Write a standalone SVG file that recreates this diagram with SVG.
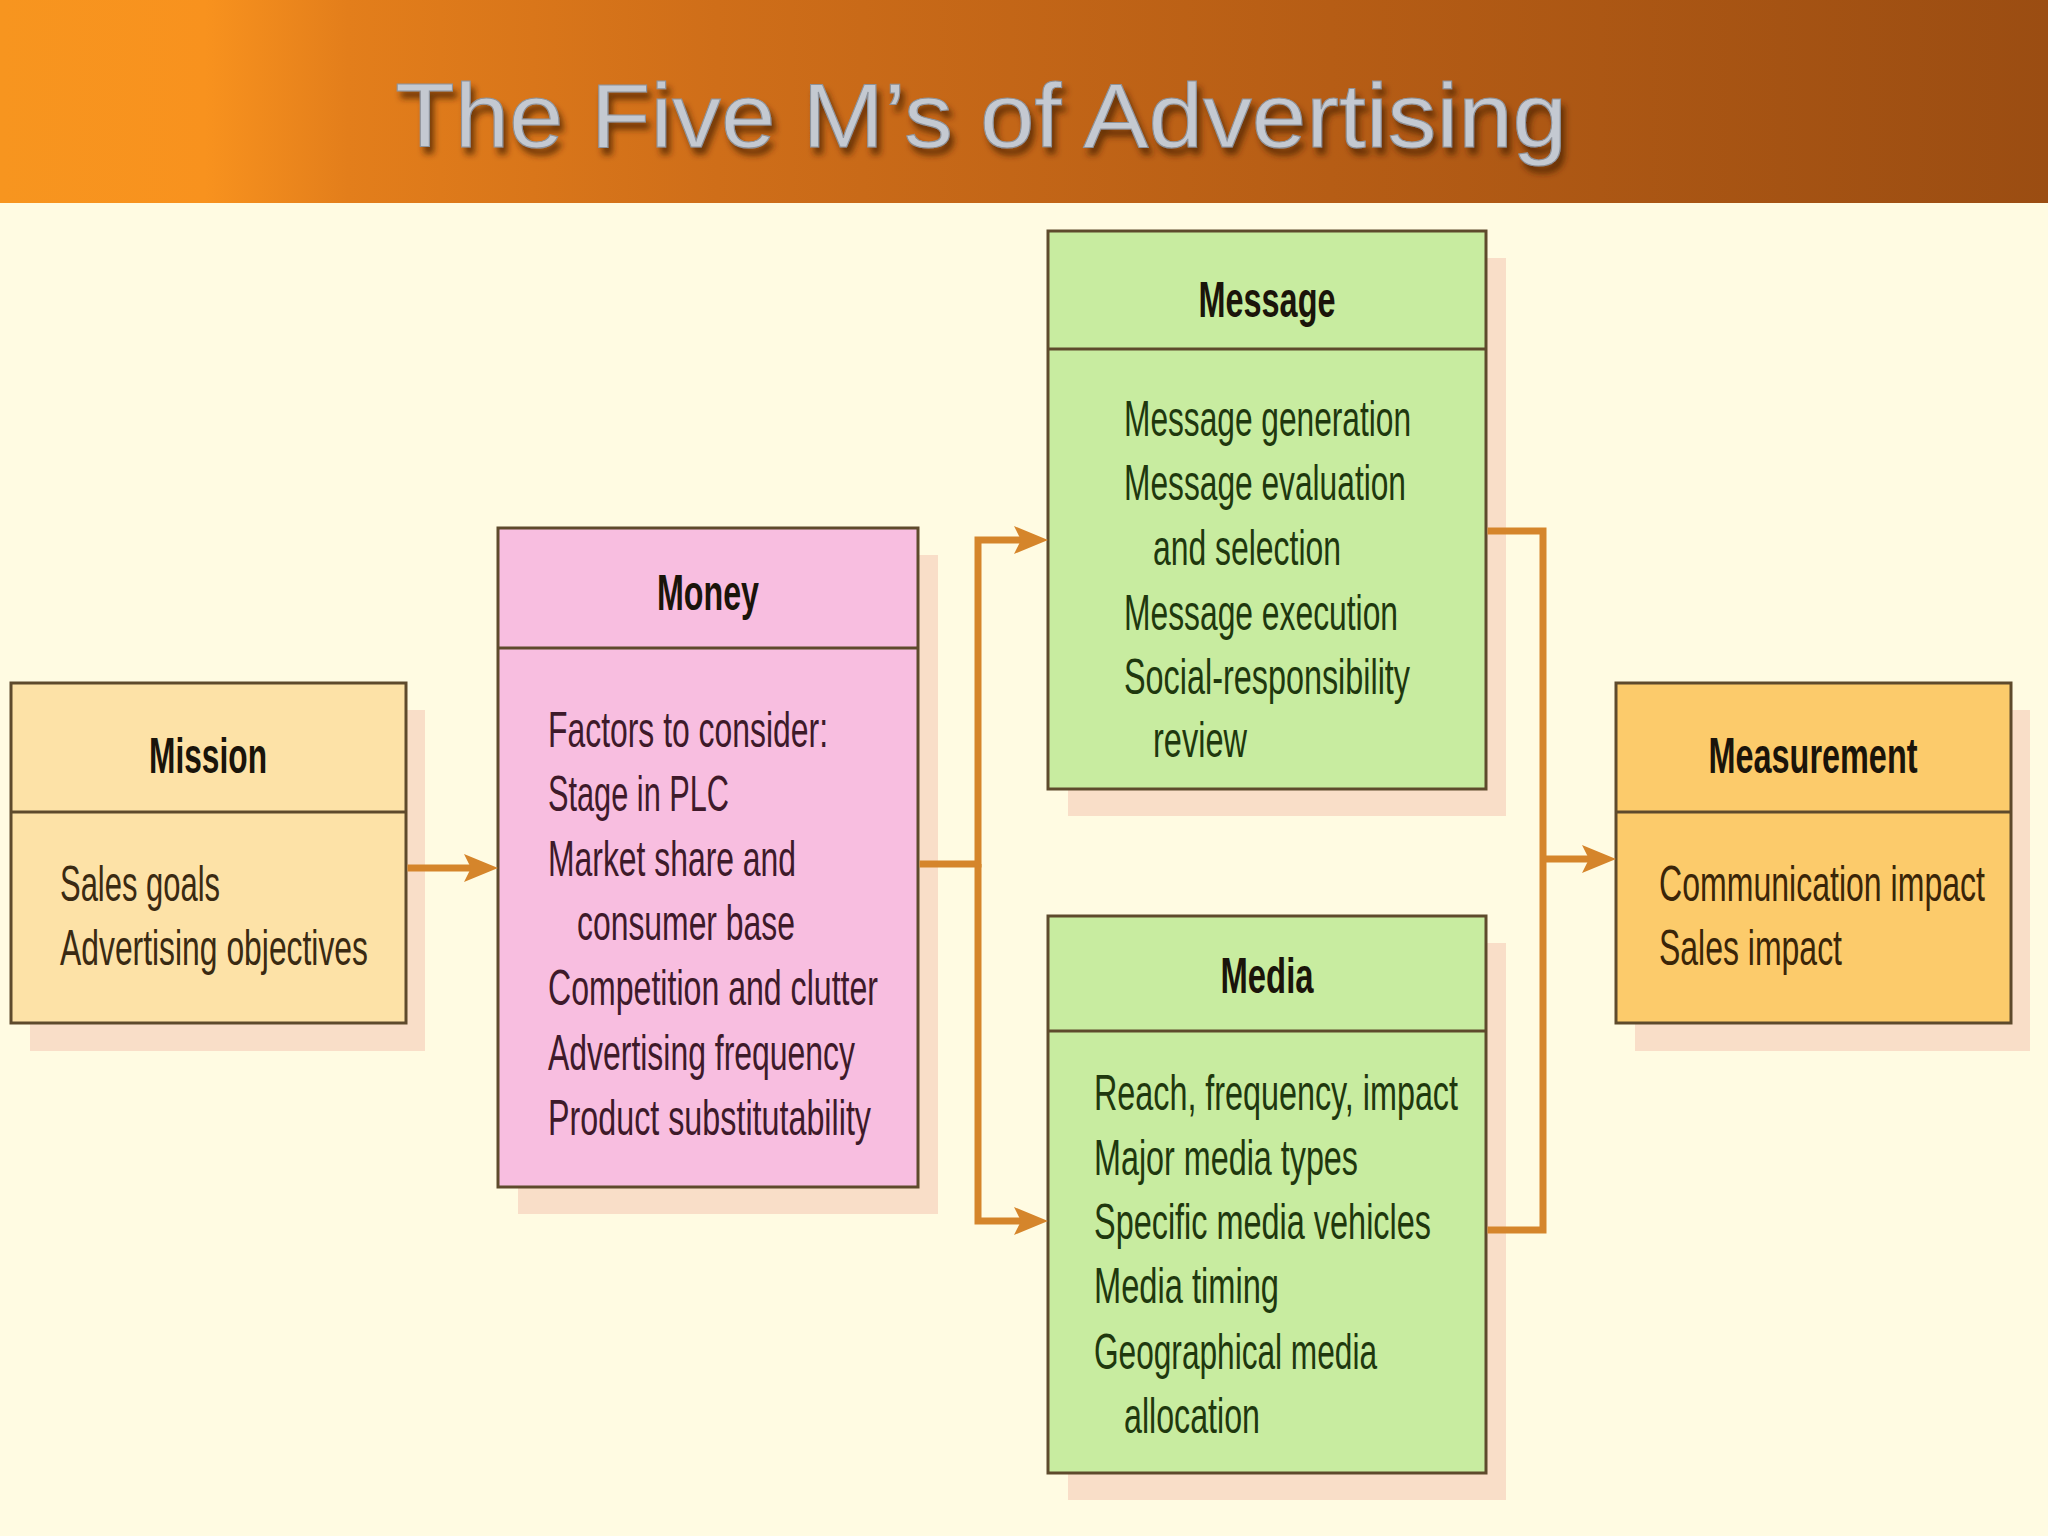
<svg xmlns="http://www.w3.org/2000/svg" width="2048" height="1536" viewBox="0 0 2048 1536">
  <defs>
    <linearGradient id="banner" x1="0" y1="0" x2="1" y2="0">
      <stop offset="0" stop-color="#f7951f"/>
      <stop offset="0.1" stop-color="#f8921e"/>
      <stop offset="0.17" stop-color="#e37e1b"/>
      <stop offset="0.35" stop-color="#cf6e19"/>
      <stop offset="0.65" stop-color="#b65d15"/>
      <stop offset="1" stop-color="#9b4d12"/>
    </linearGradient>
    <filter id="tshadow" x="-5%" y="-30%" width="110%" height="170%">
      <feDropShadow dx="4" dy="7" stdDeviation="3" flood-color="#4a2000" flood-opacity="0.75"/>
    </filter>
    <marker id="arrow" markerUnits="userSpaceOnUse" viewBox="0 0 34 30" markerWidth="34" markerHeight="30" refX="24" refY="15" orient="auto">
      <path d="M0,1 L34,15 L0,29 L7,15 Z" fill="#d5852b"/>
    </marker>
    <style>
      .shadow { fill: #f9dec8; }
      .box { stroke: #5e4a2c; stroke-width: 3; }
      .div { stroke: #5e4a2c; stroke-width: 3; }
      .hdr { font-family: "Liberation Sans Narrow", "Liberation Sans", Arial, sans-serif; font-weight: bold; font-size: 50px; text-anchor: middle; fill: #1a140a; }
      .body { font-family: "Liberation Sans Narrow", "Liberation Sans", Arial, sans-serif; font-size: 50px; }
      .conn { fill: none; stroke: #d5852b; stroke-width: 7; stroke-linejoin: miter; }
      .title { font-family: "Liberation Sans", Arial, sans-serif; font-size: 90px; fill: #c4c9d1; stroke: #8d939c; stroke-width: 1; }
    </style>
  </defs>

  <rect x="0" y="0" width="2048" height="1536" fill="#fffbe2"/>
  <g id="banner-group">
    <rect x="0" y="0" width="2048" height="203" fill="url(#banner)"/>
    <text class="title" x="395" y="147" textLength="1172" lengthAdjust="spacingAndGlyphs" filter="url(#tshadow)">The Five M’s of Advertising</text>
  </g>

  <g id="mission">
    <rect class="shadow" x="30" y="710" width="395" height="341"/>
    <rect class="box" x="11" y="683" width="395" height="340" fill="#fde2a7"/>
    <line class="div" x1="11" y1="812" x2="406" y2="812"/>
    <text class="hdr" x="208" y="773" textLength="118" lengthAdjust="spacingAndGlyphs">Mission</text>
    <g class="body" fill="#3a2a12">
      <text x="60" y="901" textLength="160" lengthAdjust="spacingAndGlyphs">Sales goals</text>
      <text x="60" y="965" textLength="308" lengthAdjust="spacingAndGlyphs">Advertising objectives</text>
    </g>
  </g>

  <g id="money">
    <rect class="shadow" x="518" y="555" width="420" height="659"/>
    <rect class="box" x="498" y="528" width="420" height="659" fill="#f8bee0"/>
    <line class="div" x1="498" y1="648" x2="918" y2="648"/>
    <text class="hdr" x="708" y="610" textLength="102" lengthAdjust="spacingAndGlyphs">Money</text>
    <g class="body" fill="#3e1a2a">
      <text x="548" y="747" textLength="280" lengthAdjust="spacingAndGlyphs">Factors to consider:</text>
      <text x="548" y="811" textLength="181" lengthAdjust="spacingAndGlyphs">Stage in PLC</text>
      <text x="548" y="876" textLength="248" lengthAdjust="spacingAndGlyphs">Market share and</text>
      <text x="577" y="940" textLength="218" lengthAdjust="spacingAndGlyphs">consumer base</text>
      <text x="548" y="1005" textLength="330" lengthAdjust="spacingAndGlyphs">Competition and clutter</text>
      <text x="548" y="1070" textLength="307" lengthAdjust="spacingAndGlyphs">Advertising frequency</text>
      <text x="548" y="1135" textLength="323" lengthAdjust="spacingAndGlyphs">Product substitutability</text>
    </g>
  </g>

  <g id="message">
    <rect class="shadow" x="1068" y="258" width="438" height="558"/>
    <rect class="box" x="1048" y="231" width="438" height="558" fill="#c8eca0"/>
    <line class="div" x1="1048" y1="349" x2="1486" y2="349"/>
    <text class="hdr" x="1267" y="317" textLength="137" lengthAdjust="spacingAndGlyphs">Message</text>
    <g class="body" fill="#1f380e">
      <text x="1124" y="436" textLength="287" lengthAdjust="spacingAndGlyphs">Message generation</text>
      <text x="1124" y="500" textLength="282" lengthAdjust="spacingAndGlyphs">Message evaluation</text>
      <text x="1153" y="565" textLength="188" lengthAdjust="spacingAndGlyphs">and selection</text>
      <text x="1124" y="630" textLength="274" lengthAdjust="spacingAndGlyphs">Message execution</text>
      <text x="1124" y="694" textLength="286" lengthAdjust="spacingAndGlyphs">Social-responsibility</text>
      <text x="1153" y="757" textLength="94" lengthAdjust="spacingAndGlyphs">review</text>
    </g>
  </g>

  <g id="media">
    <rect class="shadow" x="1068" y="943" width="438" height="557"/>
    <rect class="box" x="1048" y="916" width="438" height="557" fill="#c8eca0"/>
    <line class="div" x1="1048" y1="1031" x2="1486" y2="1031"/>
    <text class="hdr" x="1267" y="993" textLength="93" lengthAdjust="spacingAndGlyphs">Media</text>
    <g class="body" fill="#1f380e">
      <text x="1094" y="1110" textLength="364" lengthAdjust="spacingAndGlyphs">Reach, frequency, impact</text>
      <text x="1094" y="1175" textLength="264" lengthAdjust="spacingAndGlyphs">Major media types</text>
      <text x="1094" y="1239" textLength="337" lengthAdjust="spacingAndGlyphs">Specific media vehicles</text>
      <text x="1094" y="1303" textLength="185" lengthAdjust="spacingAndGlyphs">Media timing</text>
      <text x="1094" y="1369" textLength="283" lengthAdjust="spacingAndGlyphs">Geographical media</text>
      <text x="1124" y="1433" textLength="136" lengthAdjust="spacingAndGlyphs">allocation</text>
    </g>
  </g>

  <g id="measurement">
    <rect class="shadow" x="1635" y="710" width="395" height="341"/>
    <rect class="box" x="1616" y="683" width="395" height="340" fill="#fccb6b"/>
    <line class="div" x1="1616" y1="812" x2="2011" y2="812"/>
    <text class="hdr" x="1813" y="773" textLength="209" lengthAdjust="spacingAndGlyphs">Measurement</text>
    <g class="body" fill="#3a2508">
      <text x="1659" y="901" textLength="326" lengthAdjust="spacingAndGlyphs">Communication impact</text>
      <text x="1659" y="965" textLength="183" lengthAdjust="spacingAndGlyphs">Sales impact</text>
    </g>
  </g>

  <g id="connectors">
    <path class="conn" d="M407.5,868 H488" marker-end="url(#arrow)"/>
    <path class="conn" d="M919.5,864 H978 V540 H1038" marker-end="url(#arrow)"/>
    <path class="conn" d="M978,864 V1221 H1038" marker-end="url(#arrow)"/>
    <path class="conn" d="M1487.5,531 H1543 V1230 H1487.5"/>
    <path class="conn" d="M1543,859 H1606" marker-end="url(#arrow)"/>
  </g>
</svg>
